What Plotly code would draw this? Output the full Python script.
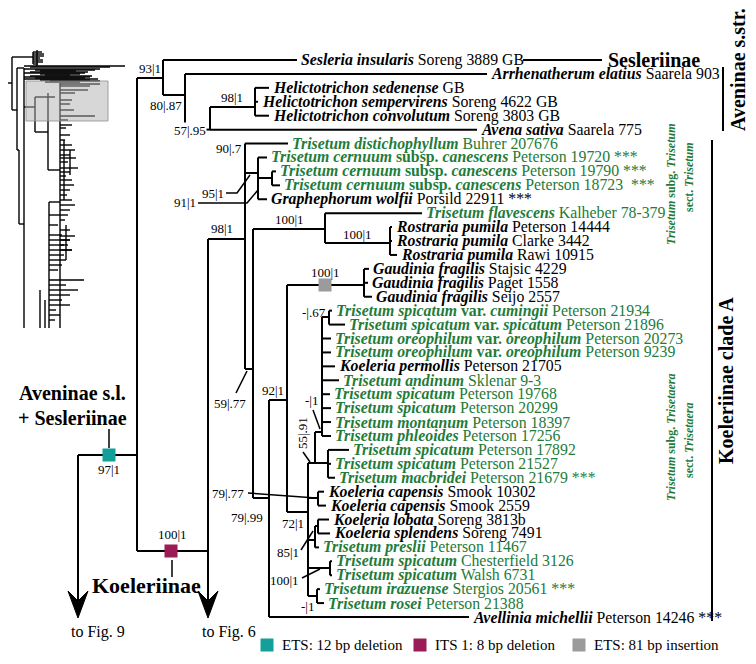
import plotly.graph_objects as go

W, H = 756, 664
PAGE_MARGIN = 8          # default body margin of the html page
ROW0, ROWSTEP = 60.0, 13.925
GREEN = "#237b39"
FONT = "Liberation Serif"
TIP_SIZE = 15.8

# ---------------- tips (top to bottom) ----------------
tip_taxon = [
    "Sesleria insularis", "Arrhenatherum elatius", "Helictotrichon sedenense",
    "Helictotrichon sempervirens", "Helictotrichon convolutum", "Avena sativa",
    "Trisetum distichophyllum", "Trisetum cernuum subsp. canescens",
    "Trisetum cernuum subsp. canescens", "Trisetum cernuum subsp. canescens",
    "Graphephorum wolfii", "Trisetum flavescens", "Rostraria pumila", "Rostraria pumila",
    "Rostraria pumila", "Gaudinia fragilis", "Gaudinia fragilis", "Gaudinia fragilis",
    "Trisetum spicatum var. cumingii", "Trisetum spicatum var. spicatum",
    "Trisetum oreophilum var. oreophilum", "Trisetum oreophilum var. oreophilum",
    "Koeleria permollis", "Trisetum andinum", "Trisetum spicatum", "Trisetum spicatum",
    "Trisetum montanum", "Trisetum phleoides", "Trisetum spicatum", "Trisetum spicatum",
    "Trisetum macbridei", "Koeleria capensis", "Koeleria capensis", "Koeleria lobata",
    "Koeleria splendens", "Trisetum preslii", "Trisetum spicatum", "Trisetum spicatum",
    "Trisetum irazuense", "Trisetum rosei", "Avellinia michellii"]
tip_voucher = [
    "Soreng 3889 GB", "Saarela 903", "GB", "Soreng 4622 GB", "Soreng 3803 GB", "Saarela 775",
    "Buhrer 207676", "Peterson 19720 ***", "Peterson 19790 ***", "Peterson 18723 &nbsp;***",
    "Porsild 22911 ***", "Kalheber 78-379", "Peterson 14444", "Clarke 3442", "Rawi 10915",
    "Stajsic 4229", "Paget 1558", "Seijo 2557", "Peterson 21934", "Peterson 21896",
    "Peterson 20273", "Peterson 9239", "Peterson 21705", "Sklenar 9-3", "Peterson 19768",
    "Peterson 20299", "Peterson 18397", "Peterson 17256", "Peterson 17892", "Peterson 21527",
    "Peterson 21679 ***", "Smook 10302", "Smook 2559", "Soreng 3813b", "Soreng 7491",
    "Peterson 11467", "Chesterfield 3126", "Walsh 6731", "Stergios 20561 ***",
    "Peterson 21388", "Peterson 14246 ***"]
tip_green = [0, 0, 0, 0, 0, 0, 1, 1, 1, 1, 0, 1, 0, 0, 0, 0, 0, 0, 1, 1, 1, 1, 0, 1, 1, 1,
             1, 1, 1, 1, 1, 0, 0, 0, 0, 1, 1, 1, 1, 1, 0]
tip_parent = ["TOP", "N185", "HEL", "HEL", "HEL", "N210", "A", "CER", "CER2", "CER2", "CER",
              "FR", "ROS", "ROS", "ROS", "GAU", "GAU", "GAU", "PP", "PP", "T", "T", "T", "T",
              "T", "T", "T", "T", "U", "U", "U", "CAP", "CAP", "LOB", "LOB", "LP", "CW", "CW",
              "IR", "IR", "C"]
# x position where each tip label starts (branch end)
tip_x = [300, 490, 272, 261, 272, 480, 291, 270, 279, 283, 270, 425, 395, 395, 400, 372, 371,
         375, 335, 348, 334, 334, 338, 342, 333, 334, 334, 334, 352, 334, 338, 327, 329, 332,
         333, 322, 335, 335, 323, 327, 472]

# ---------------- internal nodes: id, parent, x, stem y ----------------
node_id = ["N78", "AS", "TOP", "N185", "N210", "HEL", "KOE", "A", "CER", "CER2", "B", "FR",
           "ROS", "C", "P", "GAU", "R", "S", "T", "PP", "U", "CAP", "LP", "LOB", "CW", "IR"]
node_parent = [None, "N78", "AS", "TOP", "N185", "N210", "AS", "KOE", "A", "CER", "A", "B",
               "FR", "B", "C", "P", "P", "R", "S", "T", "S", "R", "R", "LP", "R", "R"]
node_x = [78, 137, 163, 185, 210, 255, 208, 245, 258, 272, 253, 325, 390, 269, 287, 364, 308,
          315, 322, 329, 328, 318, 315, 318, 330, 317]
node_y = [455, 455, 78, 95, 129.6, 107, 551, 239, 173, 178, 369, 229, 243, 498, 400, 285, 512,
          463, 432, 317, 463, 498, 540, 526, 568, 596]

# support values: text, x, y, anchor
sup_text = ["93|1", "80|.87", "98|1", "57|.95", "90|.7", "95|1", "91|1", "98|1", "100|1",
            "100|1", "100|1", "-|.67", "-|1", "55|.91", "59|.77", "92|1", "79|.77", "79|.99",
            "72|1", "85|1", "100|1", "-|1", "100|1", "97|1"]
sup_x = [162, 183, 232, 190, 243, 225, 197, 222, 289, 357, 325, 327, 311, 302, 230, 273, 245,
         247, 293, 300, 300, 307, 172, 109]
sup_y = [68, 105, 97, 130, 148, 193, 202, 228, 219, 234, 272, 312, 400, 433, 403, 390, 493, 517,
         523, 552, 580, 606, 534, 469]
sup_anchor = ["right", "right", "center", "center", "right", "right", "right", "center",
              "center", "center", "center", "right", "center", "center", "center", "center",
              "right", "center", "center", "right", "right", "center", "center", "center"]
sup_angle = [0] * 13 + [-90] + [0] * 10

leader_lines = [
    [(226, 193), (237, 193), (250, 175)],
    [(198, 203), (247, 203), (258, 190)],
    [(313, 410), (320, 429)],
    [(303, 452), (310, 462)],
    [(236, 393), (247, 371)],
    [(248, 493), (316, 498)],
    [(301, 550), (313, 531)],
    [(302, 578), (320, 569)],
    [(109, 429), (109, 448)],
    [(172, 560), (172, 577)],
]

# indel events on branches
event_x = [109, 171, 325]
event_y = [455, 551, 285]
event_color = ["#13a09a", "#9a1b55", "#9b9b9b"]
legend_text = ["ETS: 12 bp deletion", "ITS 1: 8 bp deletion", "ETS: 81 bp insertion"]
legend_sq_x = [267, 420, 579]

arrow_x = [78, 208]
arrow_top = [455, 551]
arrow_label = ["to Fig. 9", "to Fig. 6"]
arrow_label_x = [98, 229]

# thumbnail of the whole tree (verticals and horizontals)
thumb_v = [(12, 57, 110), (17, 68, 150), (19, 150, 224), (24, 68, 328), (35, 97, 132),
           (48, 93, 170), (60, 83, 328), (49, 202, 328), (33, 52, 64), (40, 290, 328),
           (45, 300, 328), (37, 50, 66), (64, 140, 200), (66, 225, 260), (70, 150, 175)]
thumb_h = [(83, 8, 12), (57, 12, 33), (110, 12, 17), (150, 17, 19), (224, 19, 24),
           (107, 24, 35), (132, 35, 48), (170, 48, 60), (202, 49, 60), (68, 17, 24),
           (66, 24, 125), (67, 30, 110), (69, 24, 100), (70, 35, 95), (71, 40, 76),
           (72, 30, 88), (73, 24, 85), (74, 40, 80), (75, 45, 70), (76, 30, 92), (77, 24, 90),
           (78, 35, 85), (79, 24, 98), (80, 40, 90), (81, 50, 100), (82, 45, 80), (84, 60, 100),
           (86, 60, 90), (90, 60, 88), (93, 60, 75), (100, 60, 72), (104, 60, 70),
           (110, 60, 74), (116, 60, 95), (97, 35, 55), (52, 33, 42), (54, 33, 44),
           (56, 33, 44), (58, 33, 40), (60, 33, 43), (62, 33, 43), (64, 33, 38),
           (120, 60, 68), (125, 60, 72), (128, 60, 66), (135, 60, 70),
           (140, 60, 65), (145, 60, 72), (150, 60, 75), (155, 60, 70), (158, 60, 76),
           (162, 60, 68), (168, 60, 78), (172, 60, 70), (176, 60, 66), (180, 60, 72),
           (185, 60, 74), (190, 60, 70), (195, 60, 67), (200, 60, 72), (205, 60, 75),
           (210, 60, 70), (215, 60, 68), (220, 60, 65), (230, 60, 70), (236, 60, 75),
           (240, 60, 70), (245, 60, 68), (250, 60, 72), (255, 60, 64), (215, 49, 60),
           (225, 49, 58), (235, 49, 62), (240, 49, 70), (245, 49, 64), (250, 49, 72),
           (255, 49, 60), (260, 49, 66), (265, 49, 62), (270, 49, 58), (280, 49, 84),
           (285, 49, 66), (290, 49, 78), (295, 49, 70), (300, 49, 62), (305, 49, 70),
           (310, 49, 56), (315, 49, 60), (320, 49, 55)]
thumb_box = (26, 81, 108, 121)


def rowy(i):
    return ROW0 + ROWSTEP * i


def taxon_html(name):
    parts = []
    for w in name.split(" "):
        if w in ("subsp.", "var."):
            parts.append(w)
        else:
            parts.append("<i>" + w + "</i>")
    return "<b>" + " ".join(parts).replace("</i> <i>", " ") + "</b>"


# ---------------- build tree geometry ----------------
nx = dict(zip(node_id, node_x))
ny = dict(zip(node_id, node_y))
npar = dict(zip(node_id, node_parent))
child_y = {n: [] for n in node_id}

xs, ys = [], []


def seg(x0, y0, x1, y1):
    xs.extend([x0, x1, None])
    ys.extend([y0, y1, None])


for i in range(len(tip_taxon)):
    p = tip_parent[i]
    y = rowy(i)
    child_y[p].append(y)
    seg(nx[p], y, tip_x[i] - 3, y)

for n in node_id:
    p = npar[n]
    if p is not None:
        child_y[p].append(ny[n])
        seg(nx[p], ny[n], nx[n], ny[n])

for n in node_id:
    yy = child_y[n] + [ny[n]]
    if max(yy) > min(yy):
        seg(nx[n], min(yy), nx[n], max(yy))

# arrows shafts
for ax_, at in zip(arrow_x, arrow_top):
    seg(ax_, at, ax_, 600)

# clade bars on the right
seg(523, rowy(0), 602, rowy(0))
seg(723, 67, 723, 131)
seg(712, 140, 712, 621)

lx, ly = [], []
for pts in leader_lines:
    for (a, b) in pts:
        lx.append(a)
        ly.append(b)
    lx.append(None)
    ly.append(None)

tx, ty = [], []
for (x, y0, y1) in thumb_v:
    tx += [x, x, None]
    ty += [y0, y1, None]
for (y, x0, x1) in thumb_h:
    tx += [x0, x1, None]
    ty += [y, y, None]

fig = go.Figure()
bx0, by0, bx1, by1 = thumb_box
fig.add_trace(go.Scatter(x=tx, y=ty, mode="lines", line=dict(color="black", width=1.4),
                         hoverinfo="skip"))
fig.add_trace(go.Scatter(x=[bx0, bx1, bx1, bx0, bx0], y=[by0, by0, by1, by1, by0],
                         mode="lines", fill="toself", fillcolor="rgba(175,175,175,0.5)",
                         line=dict(color="rgba(140,140,140,0.8)", width=1), hoverinfo="skip"))
fig.add_trace(go.Scatter(x=xs, y=ys, mode="lines", line=dict(color="black", width=2),
                         hoverinfo="skip"))
fig.add_trace(go.Scatter(x=lx, y=ly, mode="lines", line=dict(color="black", width=1.5),
                         hoverinfo="skip"))
# arrowheads
for ax_ in arrow_x:
    fig.add_trace(go.Scatter(x=[ax_, ax_ - 10, ax_, ax_ + 10, ax_],
                             y=[618, 591, 601, 591, 618], mode="lines", fill="toself",
                             fillcolor="black", line=dict(color="black", width=1),
                             hoverinfo="skip"))
# event squares and legend squares
fig.add_trace(go.Scatter(x=event_x, y=event_y, mode="markers",
                         marker=dict(symbol="square", size=13, color=event_color,
                                     line=dict(width=0)), hoverinfo="skip"))
fig.add_trace(go.Scatter(x=legend_sq_x, y=[645] * 3, mode="markers",
                         marker=dict(symbol="square", size=13, color=event_color,
                                     line=dict(width=0)), hoverinfo="skip"))

ann = []
for i in range(len(tip_taxon)):
    col = GREEN if tip_green[i] else "black"
    ann.append(dict(x=tip_x[i], y=rowy(i), xanchor="left", yanchor="middle", align="left",
                    text=taxon_html(tip_taxon[i]) + " " + tip_voucher[i],
                    font=dict(size=TIP_SIZE, color=col, family=FONT), showarrow=False,
                    borderpad=0))
for t, x, y, a, ang in zip(sup_text, sup_x, sup_y, sup_anchor, sup_angle):
    d = dict(x=x, y=y, xanchor=a, yanchor="middle", text=t, textangle=ang, align=a,
             font=dict(size=13, color="black", family=FONT), showarrow=False, borderpad=0)
    if t == "57|.95":
        d["bgcolor"] = "white"
    ann.append(d)

big = [("Aveninae s.l.", 72, 393, 20, 0), ("+ Sesleriinae", 72, 418, 20, 0),
       ("Koeleriinae", 146, 585, 22, 0), ("Aveninae s.str.", 738, 70, 20, -90),
       ("Koeleriinae clade A", 726, 381, 20, -90)]
for t, x, y, s, ang in big:
    ann.append(dict(x=x, y=y, xanchor="center", yanchor="middle", text="<b>" + t + "</b>",
                    textangle=ang, font=dict(size=s, color="black", family=FONT),
                    showarrow=False, borderpad=0))
ann.append(dict(x=607, y=rowy(0), xanchor="left", yanchor="middle", align="left",
                text="<b>Sesleriinae</b>",
                font=dict(size=20, color="black", family=FONT), showarrow=False, borderpad=0))

green_lab = [("<b><i>Trisetum</i> subg. <i>Trisetum</i></b>", 671, 184),
             ("<b>sect. <i>Trisetum</i></b>", 689, 177),
             ("<b><i>Trisetum</i> subg. <i>Trisetaera</i></b>", 671, 438),
             ("<b>sect. <i>Trisetaera</i></b>", 689, 440)]
for t, x, y in green_lab:
    ann.append(dict(x=x, y=y, xanchor="center", yanchor="middle", text=t, textangle=-90,
                    font=dict(size=12, color=GREEN, family=FONT), showarrow=False, borderpad=0))

for t, x in zip(arrow_label, arrow_label_x):
    ann.append(dict(x=x, y=632, xanchor="center", yanchor="middle", text=t,
                    font=dict(size=16, color="black", family=FONT), showarrow=False,
                    borderpad=0))
for t, x in zip(legend_text, legend_sq_x):
    ann.append(dict(x=x + 14, y=645, xanchor="left", yanchor="middle", align="left", text=t,
                    font=dict(size=15, color="black", family=FONT), showarrow=False,
                    borderpad=0))

# the page puts the plot 8 px from the top-left corner, so the plot covers
# page pixels 8..756 / 8..664 and the axes ranges map straight onto page pixels
fig.update_layout(
    width=W - PAGE_MARGIN, height=H - PAGE_MARGIN, margin=dict(l=0, r=0, t=0, b=0),
    showlegend=False, paper_bgcolor="white", plot_bgcolor="white", annotations=ann,
    xaxis=dict(range=[PAGE_MARGIN, W], visible=False, fixedrange=True),
    yaxis=dict(range=[H, PAGE_MARGIN], visible=False, fixedrange=True),
)
fig.write_html("out.html")
